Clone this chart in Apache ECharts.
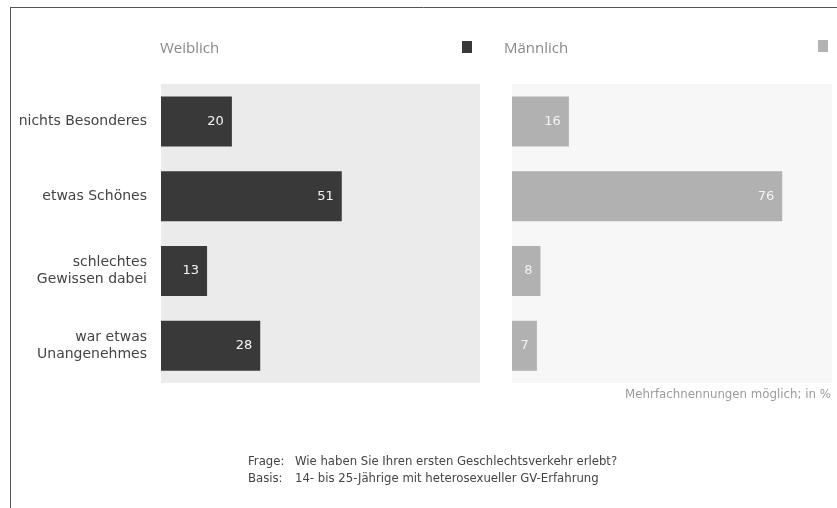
<!DOCTYPE html>
<html><head><meta charset="utf-8">
<script src="https://cdn.jsdelivr.net/npm/echarts@6/dist/echarts.min.js"></script>
<style>html,body{margin:0;padding:0;background:#fff}#c{width:837px;height:508px}</style>
</head><body><div id="c"></div>
<script>
const categories = ['nichts Besonderes', 'etwas Schönes', 'schlechtes\nGewissen dabei', 'war etwas\nUnangenehmes'];
const weiblich = [20, 51, 13, 28];
const maennlich = [16, 76, 8, 7];
const seriesNames = ['Weiblich', 'Männlich'];
const note = 'Mehrfachnennungen möglich; in %';
const frage = 'Wie haben Sie Ihren ersten Geschlechtsverkehr erlebt?';
const basis = '14- bis 25-Jährige mit heterosexueller GV-Erfahrung';

const FONT = 'DejaVu Sans';
const chart = echarts.init(document.getElementById('c'));
const grids = [
  {left: 161, top: 84, width: 319, height: 299, show: true, backgroundColor: '#ebebeb', borderWidth: 0},
  {left: 512, top: 84, width: 320, height: 299, show: true, backgroundColor: '#f7f7f7', borderWidth: 0}
];
const xAxis = [0, 1].map(i => ({gridIndex: i, type: 'value', min: 0, max: 90, show: false}));
const yAxis = [0, 1].map(i => ({
  gridIndex: i, type: 'category', data: categories, inverse: true,
  axisLine: {show: false}, axisTick: {show: false},
  axisLabel: {show: i === 0, color: '#444', fontFamily: FONT, fontSize: 14, margin: 14, lineHeight: 17, align: 'right'}
}));
const mk = (i, name, data, color) => ({
  name, type: 'bar', xAxisIndex: i, yAxisIndex: i, data, barWidth: 50,
  itemStyle: {color},
  label: {show: true, position: 'insideRight', color: '#f4f4f4', fontFamily: FONT, fontSize: 13, distance: 8},
  silent: true
});
chart.setOption({
  animation: false,
  grid: grids, xAxis, yAxis,
  series: [mk(0, seriesNames[0], weiblich, '#393939'), mk(1, seriesNames[1], maennlich, '#b1b1b1')],
  title: [
    {text: seriesNames[0], left: 155, top: 36, textStyle: {fontFamily: 'Open Sans', fontWeight: 'normal', fontSize: 15, color: '#888'}},
    {text: seriesNames[1], left: 499, top: 36, textStyle: {fontFamily: 'Open Sans', fontWeight: 'normal', fontSize: 15, color: '#888'}}
  ],
  graphic: [
    {type: 'line', shape: {x1: 10, y1: 7.5, x2: 837, y2: 7.5}, style: {stroke: '#555', lineWidth: 1}},
    {type: 'line', shape: {x1: 10.5, y1: 7, x2: 10.5, y2: 508}, style: {stroke: '#555', lineWidth: 1}},
    {type: 'rect', shape: {x: 462, y: 41, width: 10, height: 12}, style: {fill: '#393939'}},
    {type: 'rect', shape: {x: 818, y: 40, width: 10, height: 12}, style: {fill: '#b1b1b1'}},
    {type: 'text', right: 6, top: 389, style: {text: note, fontFamily: FONT, fontSize: 11.8, fill: '#9a9a9a', textAlign: 'right'}},
    {type: 'text', left: 248, top: 456, style: {text: 'Frage:', fontFamily: FONT, fontSize: 11.7, fill: '#444'}},
    {type: 'text', left: 295, top: 456, style: {text: frage, fontFamily: FONT, fontSize: 11.7, fill: '#444'}},
    {type: 'text', left: 248, top: 473, style: {text: 'Basis:', fontFamily: FONT, fontSize: 11.7, fill: '#444'}},
    {type: 'text', left: 295, top: 473, style: {text: basis, fontFamily: FONT, fontSize: 11.7, fill: '#444'}}
  ]
});
</script></body></html>
